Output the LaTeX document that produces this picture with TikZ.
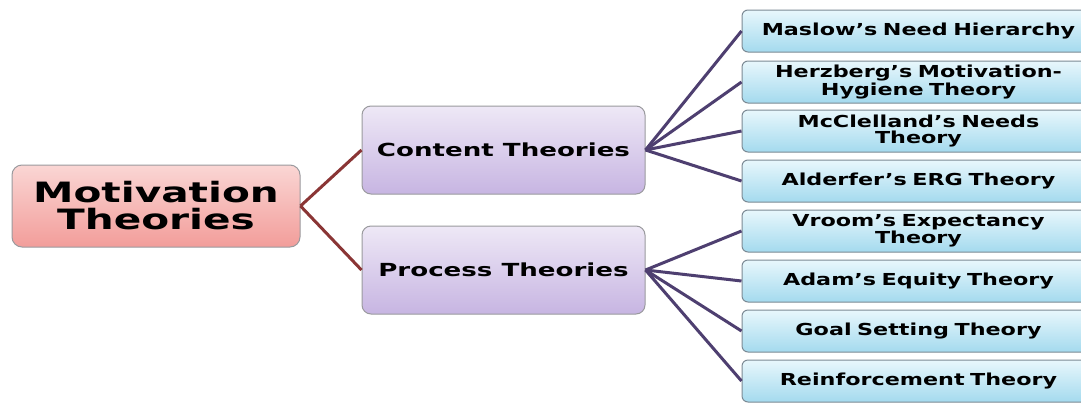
\documentclass[tikz,border=0pt]{standalone}
\usepackage{fontspec}
\newfontfamily\bigfont{DejaVu Sans}[FakeStretch=1.45]
\newfontfamily\leaffont{DejaVu Sans}[FakeStretch=1.35]
\definecolor{rootTop}{HTML}{FAD6D4}
\definecolor{rootBot}{HTML}{F29D9A}
\definecolor{midTop}{HTML}{EEE8F6}
\definecolor{midBot}{HTML}{C7B5E2}
\definecolor{leafTop}{HTML}{E8F7FC}
\definecolor{leafBot}{HTML}{A4DAEE}
\definecolor{redLine}{HTML}{8A3535}
\definecolor{purLine}{HTML}{4E3F70}
\definecolor{boxLine}{HTML}{9A9A9E}
\definecolor{leafLine}{HTML}{7C8A94}
\begin{document}
\begin{tikzpicture}[x=1pt,y=-1pt,
  rootbox/.style={rounded corners=10pt, draw=boxLine, line width=1pt,
    top color=rootTop, bottom color=rootBot, minimum width=288pt, minimum height=82pt,
    inner sep=0pt, align=center, font=\bigfont\bfseries\fontsize{28}{27}\selectfont},
  midbox/.style={rounded corners=9pt, draw=boxLine, line width=1pt,
    top color=midTop, bottom color=midBot, minimum width=283pt, minimum height=88pt,
    inner sep=0pt, align=center, font=\bigfont\bfseries\fontsize{18}{20}\selectfont},
  leafbox/.style={rounded corners=6pt, draw=leafLine, line width=1pt,
    top color=leafTop, bottom color=leafBot, minimum width=353pt, minimum height=42pt,
    inner sep=0pt, align=center, text width=340pt,
    font=\leaffont\bfseries\fontsize{16.5}{16}\selectfont},
  redlink/.style={draw=redLine, line width=3pt},
  purlink/.style={draw=purLine, line width=3pt}]
\clip (0,0) rectangle (1081,402);
\fill[white] (0,0) rectangle (1081,402);

\node[rootbox] (root) at (156,206) {Motivation\\Theories};
\node[midbox] (content) at (503.5,150) {Content Theories};
\node[midbox] (process) at (503.5,270) {Process Theories};

\node[leafbox] (l1) at (918.5,31) {Maslow’s Need Hierarchy};
\node[leafbox] (l2) at (918.5,82) {Herzberg’s Motivation-\\Hygiene Theory};
\node[leafbox] (l3) at (918.5,131) {McClelland’s Needs\\Theory};
\node[leafbox] (l4) at (918.5,181) {Alderfer’s ERG Theory};
\node[leafbox] (l5) at (918.5,231) {Vroom’s Expectancy\\Theory};
\node[leafbox] (l6) at (918.5,281) {Adam’s Equity Theory};
\node[leafbox] (l7) at (918.5,331) {Goal Setting Theory};
\node[leafbox] (l8) at (918.5,381) {Reinforcement Theory};

\draw[redlink] (root.east) -- (content.west);
\draw[redlink] (root.east) -- (process.west);
\foreach \n in {l1,l2,l3,l4} \draw[purlink] (content.east) -- (\n.west);
\foreach \n in {l5,l6,l7,l8} \draw[purlink] (process.east) -- (\n.west);
\end{tikzpicture}
\end{document}
